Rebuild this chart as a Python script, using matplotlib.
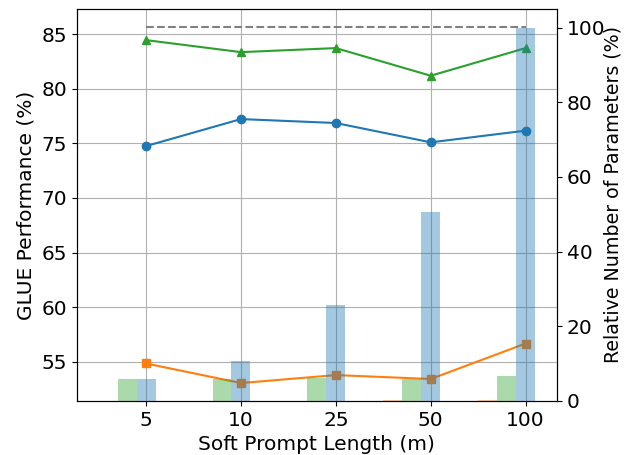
import numpy as np
import matplotlib
matplotlib.use("Agg")
import matplotlib.pyplot as plt

# soft prompt lengths
lengths = ['5', '10', '25', '50', '100']

# GLUE performance (%) for the three settings
perf_blue = [74.75, 77.22, 76.86, 75.09, 76.16]
perf_orange = [54.84, 53.05, 53.78, 53.42, 56.67]
perf_green = [84.45, 83.35, 83.72, 81.19, 83.72]
full_ft = 85.66

# relative number of parameters (%)
params_orange = [0.02, 0.04, 0.08, 0.16, 0.31]
params_green = [5.9, 5.9, 6.0, 5.9, 6.7]
params_blue = [5.9, 10.7, 25.7, 50.5, 100.0]

x = np.arange(len(lengths))
w = 0.2
fs = 14.5

fig, ax = plt.subplots(figsize=(6.25, 4.55), dpi=100)
fig.subplots_adjust(left=0.123, right=0.891, top=0.980, bottom=0.119)

ax.plot(x, perf_blue, marker='o', color='C0')
ax.plot(x, perf_orange, marker='s', color='C1')
ax.plot(x, perf_green, marker='^', color='C2')
ax.plot([x[0], x[-1]], [full_ft, full_ft], '--', color='gray')
ax.grid(True)
ax.set_ylabel('GLUE Performance (%)', fontsize=fs)
ax.set_xlabel('Soft Prompt Length (m)', fontsize=fs)
ax.set_xticks(x)
ax.set_xticklabels(lengths)
ax.tick_params(labelsize=fs)

ax2 = ax.twinx()
ax2.bar(x - 2 * w, params_orange, w, color='C1', alpha=0.4)
ax2.bar(x - w, params_green, w, color='C2', alpha=0.4)
ax2.bar(x, params_blue, w, color='C0', alpha=0.4)
ax2.set_ylabel('Relative Number of Parameters (%)', fontsize=13.7)
ax2.yaxis.set_label_coords(1.098, 0.527)
ax2.tick_params(labelsize=fs)

plt.savefig('out.png')
